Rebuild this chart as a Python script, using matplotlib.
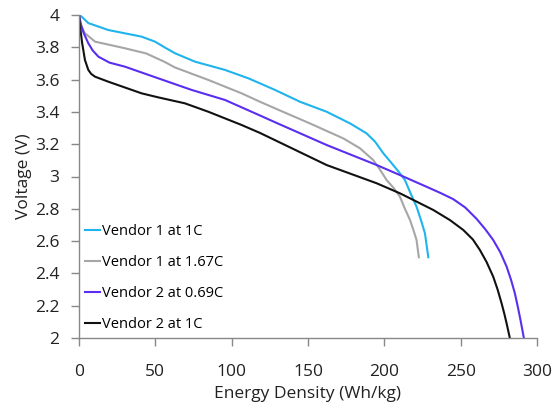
import matplotlib.pyplot as plt

# curves
v1_1c_x = [0, 1.7, 6.1, 19.2, 41, 49.8, 56, 62.9, 76, 95.6, 110.9, 118.5, 128.4, 144.7, 162.2, 177.5, 188.4, 194, 199.3, 205, 210.2, 213.5, 217, 221.1, 224, 226.6, 228.8]
v1_1c_y = [4.0, 3.99, 3.95, 3.907, 3.866, 3.835, 3.80, 3.763, 3.711, 3.66, 3.608, 3.577, 3.536, 3.463, 3.401, 3.329, 3.267, 3.215, 3.144, 3.08, 3.02, 2.978, 2.90, 2.813, 2.73, 2.648, 2.50]

v1_167c_x = [0, 1.5, 3.9, 10.5, 30.1, 44, 56, 62.9, 84.7, 106.5, 118.5, 128.4, 151.2, 173.1, 184, 192.7, 197, 201.5, 206, 210.2, 213.5, 216.8, 219, 221.1, 222.6]
v1_167c_y = [4.0, 3.93, 3.887, 3.835, 3.794, 3.762, 3.71, 3.675, 3.598, 3.515, 3.463, 3.422, 3.329, 3.236, 3.175, 3.102, 3.045, 2.978, 2.93, 2.875, 2.80, 2.731, 2.67, 2.607, 2.50]

v2_069c_x = [0, 1, 3, 6.1, 9, 12.7, 20, 30.1, 51.9, 73.8, 95.6, 118.5, 128.4, 162.2, 195, 212.4, 228, 237, 245.1, 253, 260.4, 266, 271.3, 276, 280.1, 283, 285.5, 287.5, 289.2, 291.4]
v2_069c_y = [4.0, 3.95, 3.89, 3.825, 3.78, 3.742, 3.705, 3.68, 3.608, 3.536, 3.474, 3.378, 3.336, 3.195, 3.071, 3.0, 2.935, 2.897, 2.86, 2.808, 2.738, 2.675, 2.607, 2.53, 2.442, 2.36, 2.277, 2.19, 2.111, 2.0]

v2_1c_x = [0, 0.8, 2, 3.9, 6.1, 8, 10.5, 19.2, 41, 51.9, 69.4, 84.7, 106.5, 118.5, 128.4, 162.2, 195, 210.2, 216.8, 232, 243, 251.7, 258, 262.6, 267, 271.3, 274.2, 276.8, 278.6, 280.1, 282.2]
v2_1c_y = [4.0, 3.92, 3.83, 3.721, 3.66, 3.635, 3.618, 3.587, 3.515, 3.49, 3.453, 3.401, 3.319, 3.27, 3.225, 3.071, 2.958, 2.896, 2.865, 2.793, 2.73, 2.669, 2.61, 2.545, 2.47, 2.38, 2.30, 2.215, 2.15, 2.09, 2.0]

series = [
    (v1_1c_x, v1_1c_y, '#1fb4ec', 'Vendor 1 at 1C'),
    (v1_167c_x, v1_167c_y, '#a6a6a6', 'Vendor 1 at 1.67C'),
    (v2_069c_x, v2_069c_y, '#5a2ef0', 'Vendor 2 at 0.69C'),
    (v2_1c_x, v2_1c_y, '#111111', 'Vendor 2 at 1C'),
]

plt.rcParams['font.family'] = ['Open Sans', 'DejaVu Sans']

fig = plt.figure(figsize=(5.53, 4.05), dpi=100)
ax = fig.add_axes([79 / 553, 1 - 338 / 405, 458 / 553, 323 / 405])

for xs, ys, col, lb in series:
    ax.plot(xs, ys, color=col, linewidth=1.5, label=lb, solid_joinstyle='round')

ax.set_xlim(0, 300)
ax.set_ylim(2, 4)
ax.set_xticks(range(0, 301, 50))
ax.set_yticks([2, 2.2, 2.4, 2.6, 2.8, 3, 3.2, 3.4, 3.6, 3.8, 4])
ax.set_yticklabels(['2', '2.2', '2.4', '2.6', '2.8', '3', '3.2', '3.4', '3.6', '3.8', '4'])
ax.tick_params(direction='out', length=6, width=1, color='#888888', labelsize=12.5, labelcolor='#222222')
ax.tick_params(axis='x', pad=13)
ax.tick_params(axis='y', pad=8)
for s in ['top', 'right']:
    ax.spines[s].set_visible(False)
for s in ['left', 'bottom']:
    ax.spines[s].set_color('#888888')
    ax.spines[s].set_linewidth(1)

ax.set_xlabel('Energy Density (Wh/kg)', fontsize=12.5, color='#222222', labelpad=4)
ax.set_ylabel('Voltage (V)', fontsize=12.5, color='#222222', labelpad=2.5)

ax.legend(loc='lower left', bbox_to_anchor=(-0.005, -0.01), frameon=False, fontsize=10.5,
          handlelength=1.0, handletextpad=0.1, labelspacing=1.1, borderaxespad=0.2)

fig.savefig('out.png', dpi=100)
